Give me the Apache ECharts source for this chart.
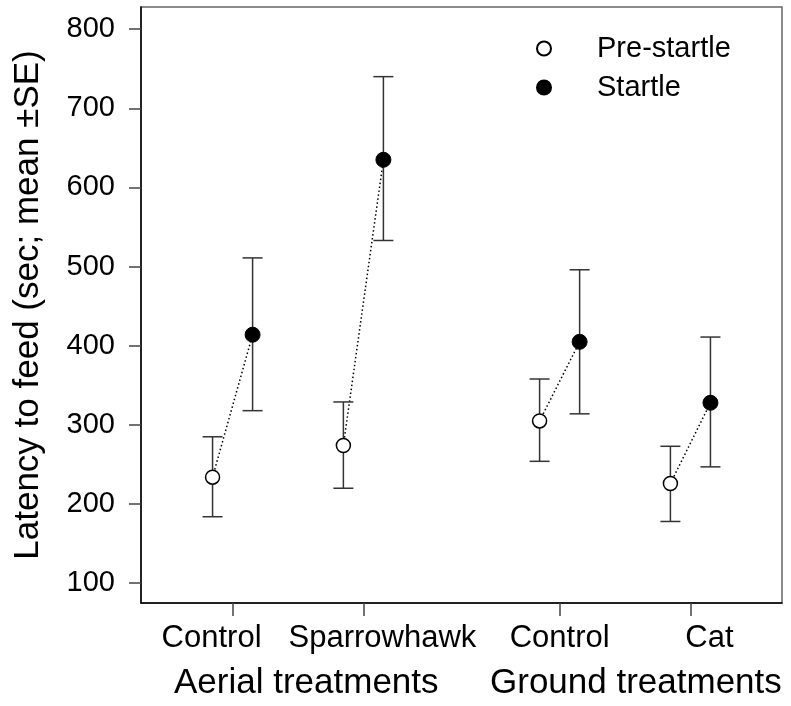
<!DOCTYPE html>
<html>
<head>
<meta charset="utf-8">
<title>Latency to feed</title>
<script src="https://cdn.jsdelivr.net/npm/echarts@6/dist/echarts.min.js"></script>
<style>
    html, body { margin: 0; padding: 0; background: #fff; }
    #chart { width: 791px; height: 706px; }
</style>
</head>
<body>
<div id="chart"></div>
<script>
// treatments, x position on the axis (aerial pair, gap, ground pair)
var categories = ['Control', 'Sparrowhawk', 'Control', 'Cat'];
var catPos = [1, 2, 3.5, 4.5];
var groupNames = ['Aerial treatments', 'Ground treatments'];

// pre-startle: mean and the ends of the +-SE bar
var preMean = [234, 274, 305, 226];
var preLow  = [184, 220, 254, 178];
var preHigh = [285, 329, 358, 273];

// startle
var startleMean = [414, 635, 405, 328];
var startleLow  = [318, 533, 314, 247];
var startleHigh = [511, 740, 496, 411];

var yTicks = [100, 200, 300, 400, 500, 600, 700, 800];

var FONT = 'Liberation Sans, Arial, sans-serif';
var OFF = 0.153; // pre point left of the tick, startle point right of it

var preData = [], startleData = [], preErr = [], startleErr = [], pairs = [];
catPos.forEach(function (x, i) {
    preData.push([x - OFF, preMean[i]]);
    startleData.push([x + OFF, startleMean[i]]);
    preErr.push([x - OFF, preLow[i], preHigh[i]]);
    startleErr.push([x + OFF, startleLow[i], startleHigh[i]]);
    pairs.push([x - OFF, preMean[i], x + OFF, startleMean[i]]);
});

function renderErrorBar(params, api) {
    var x = api.value(0);
    var lo = api.coord([x, api.value(1)]);
    var hi = api.coord([x, api.value(2)]);
    var half = 10;
    var style = { stroke: '#333', lineWidth: 1.5 };
    return {
        type: 'group',
        children: [
            { type: 'line', shape: { x1: lo[0], y1: lo[1], x2: hi[0], y2: hi[1] }, style: style },
            { type: 'line', shape: { x1: hi[0] - half, y1: hi[1], x2: hi[0] + half, y2: hi[1] }, style: style },
            { type: 'line', shape: { x1: lo[0] - half, y1: lo[1], x2: lo[0] + half, y2: lo[1] }, style: style }
        ]
    };
}

function renderPair(params, api) {
    var a = api.coord([api.value(0), api.value(1)]);
    var b = api.coord([api.value(2), api.value(3)]);
    return {
        type: 'line',
        shape: { x1: a[0], y1: a[1], x2: b[0], y2: b[1] },
        style: { stroke: '#000', lineWidth: 1.5, lineDash: [1.5, 2.5] }
    };
}

// tick labels sit a little off their ticks in the original
var labelShift = { 0: 'l', 1: 'r', 2: 'c', 3: 'r' };

var chart = echarts.init(document.getElementById('chart'));
var option = {
    backgroundColor: '#fff',
    animation: false,
    textStyle: { fontFamily: FONT },
    grid: {
        left: 141, right: 9, top: 7, bottom: 103,
        show: true, borderColor: '#666', borderWidth: 1.5,
        containLabel: false, outerBoundsMode: 'none'
    },
    legend: {
        orient: 'vertical',
        left: 531, top: 29,
        itemWidth: 14, itemHeight: 14, itemGap: 10,
        selectedMode: false,
        data: ['Pre-startle', 'Startle'],
        textStyle: { fontFamily: FONT, fontSize: 29, color: '#000', padding: [0, 0, 0, 41] }
    },
    xAxis: {
        type: 'value',
        min: 0.3, max: 5.2,
        splitLine: { show: false },
        axisLine: { show: true, lineStyle: { color: '#000', width: 1.5 } },
        axisTick: { show: true, length: 13, customValues: catPos, lineStyle: { color: '#444', width: 1.5 } },
        axisLabel: {
            customValues: catPos,
            margin: 20,
            fontSize: 31, color: '#000', fontFamily: FONT,
            formatter: function (v) {
                var i = catPos.indexOf(v);
                if (i < 0) return '';
                return '{' + labelShift[i] + '|' + categories[i] + '}';
            },
            rich: {
                l: { fontSize: 31, fontFamily: FONT, color: '#000', padding: [0, 42, 0, 0] },
                r: { fontSize: 31, fontFamily: FONT, color: '#000', padding: [0, 0, 0, 38] },
                c: { fontSize: 31, fontFamily: FONT, color: '#000' }
            }
        }
    },
    yAxis: {
        type: 'value',
        min: 75, max: 828,
        splitLine: { show: false },
        name: 'Latency to feed (sec; mean \u00b1SE)',
        nameLocation: 'middle',
        nameGap: 95,
        nameTextStyle: { fontSize: 35, color: '#000', fontFamily: FONT },
        axisLine: { show: true, lineStyle: { color: '#000', width: 1.5 } },
        axisTick: { show: true, length: 12, customValues: yTicks, lineStyle: { color: '#444', width: 1.5 } },
        axisLabel: { customValues: yTicks, margin: 26, fontSize: 29, color: '#000', fontFamily: FONT }
    },
    graphic: [
        { type: 'text', left: 174, top: 666, style: { text: groupNames[0], fontSize: 35, fontFamily: FONT, fill: '#000' } },
        { type: 'text', left: 490, top: 666, style: { text: groupNames[1], fontSize: 35, fontFamily: FONT, fill: '#000' } }
    ],
    series: [
        {
            name: 'pairs', type: 'custom', renderItem: renderPair,
            data: pairs, encode: { x: [0, 2], y: [1, 3] }, z: 1, silent: true
        },
        {
            name: 'preErr', type: 'custom', renderItem: renderErrorBar,
            data: preErr, encode: { x: 0, y: [1, 2] }, z: 2, silent: true
        },
        {
            name: 'startleErr', type: 'custom', renderItem: renderErrorBar,
            data: startleErr, encode: { x: 0, y: [1, 2] }, z: 2, silent: true
        },
        {
            name: 'Pre-startle', type: 'scatter', data: preData,
            symbol: 'circle', symbolSize: 14, z: 3,
            itemStyle: { color: '#fff', borderColor: '#000', borderWidth: 1.5, opacity: 1 }
        },
        {
            name: 'Startle', type: 'scatter', data: startleData,
            symbol: 'circle', symbolSize: 15, z: 3,
            itemStyle: { color: '#000', borderColor: '#000', borderWidth: 1, opacity: 1 }
        }
    ]
};
chart.setOption(option);
</script>
</body>
</html>
